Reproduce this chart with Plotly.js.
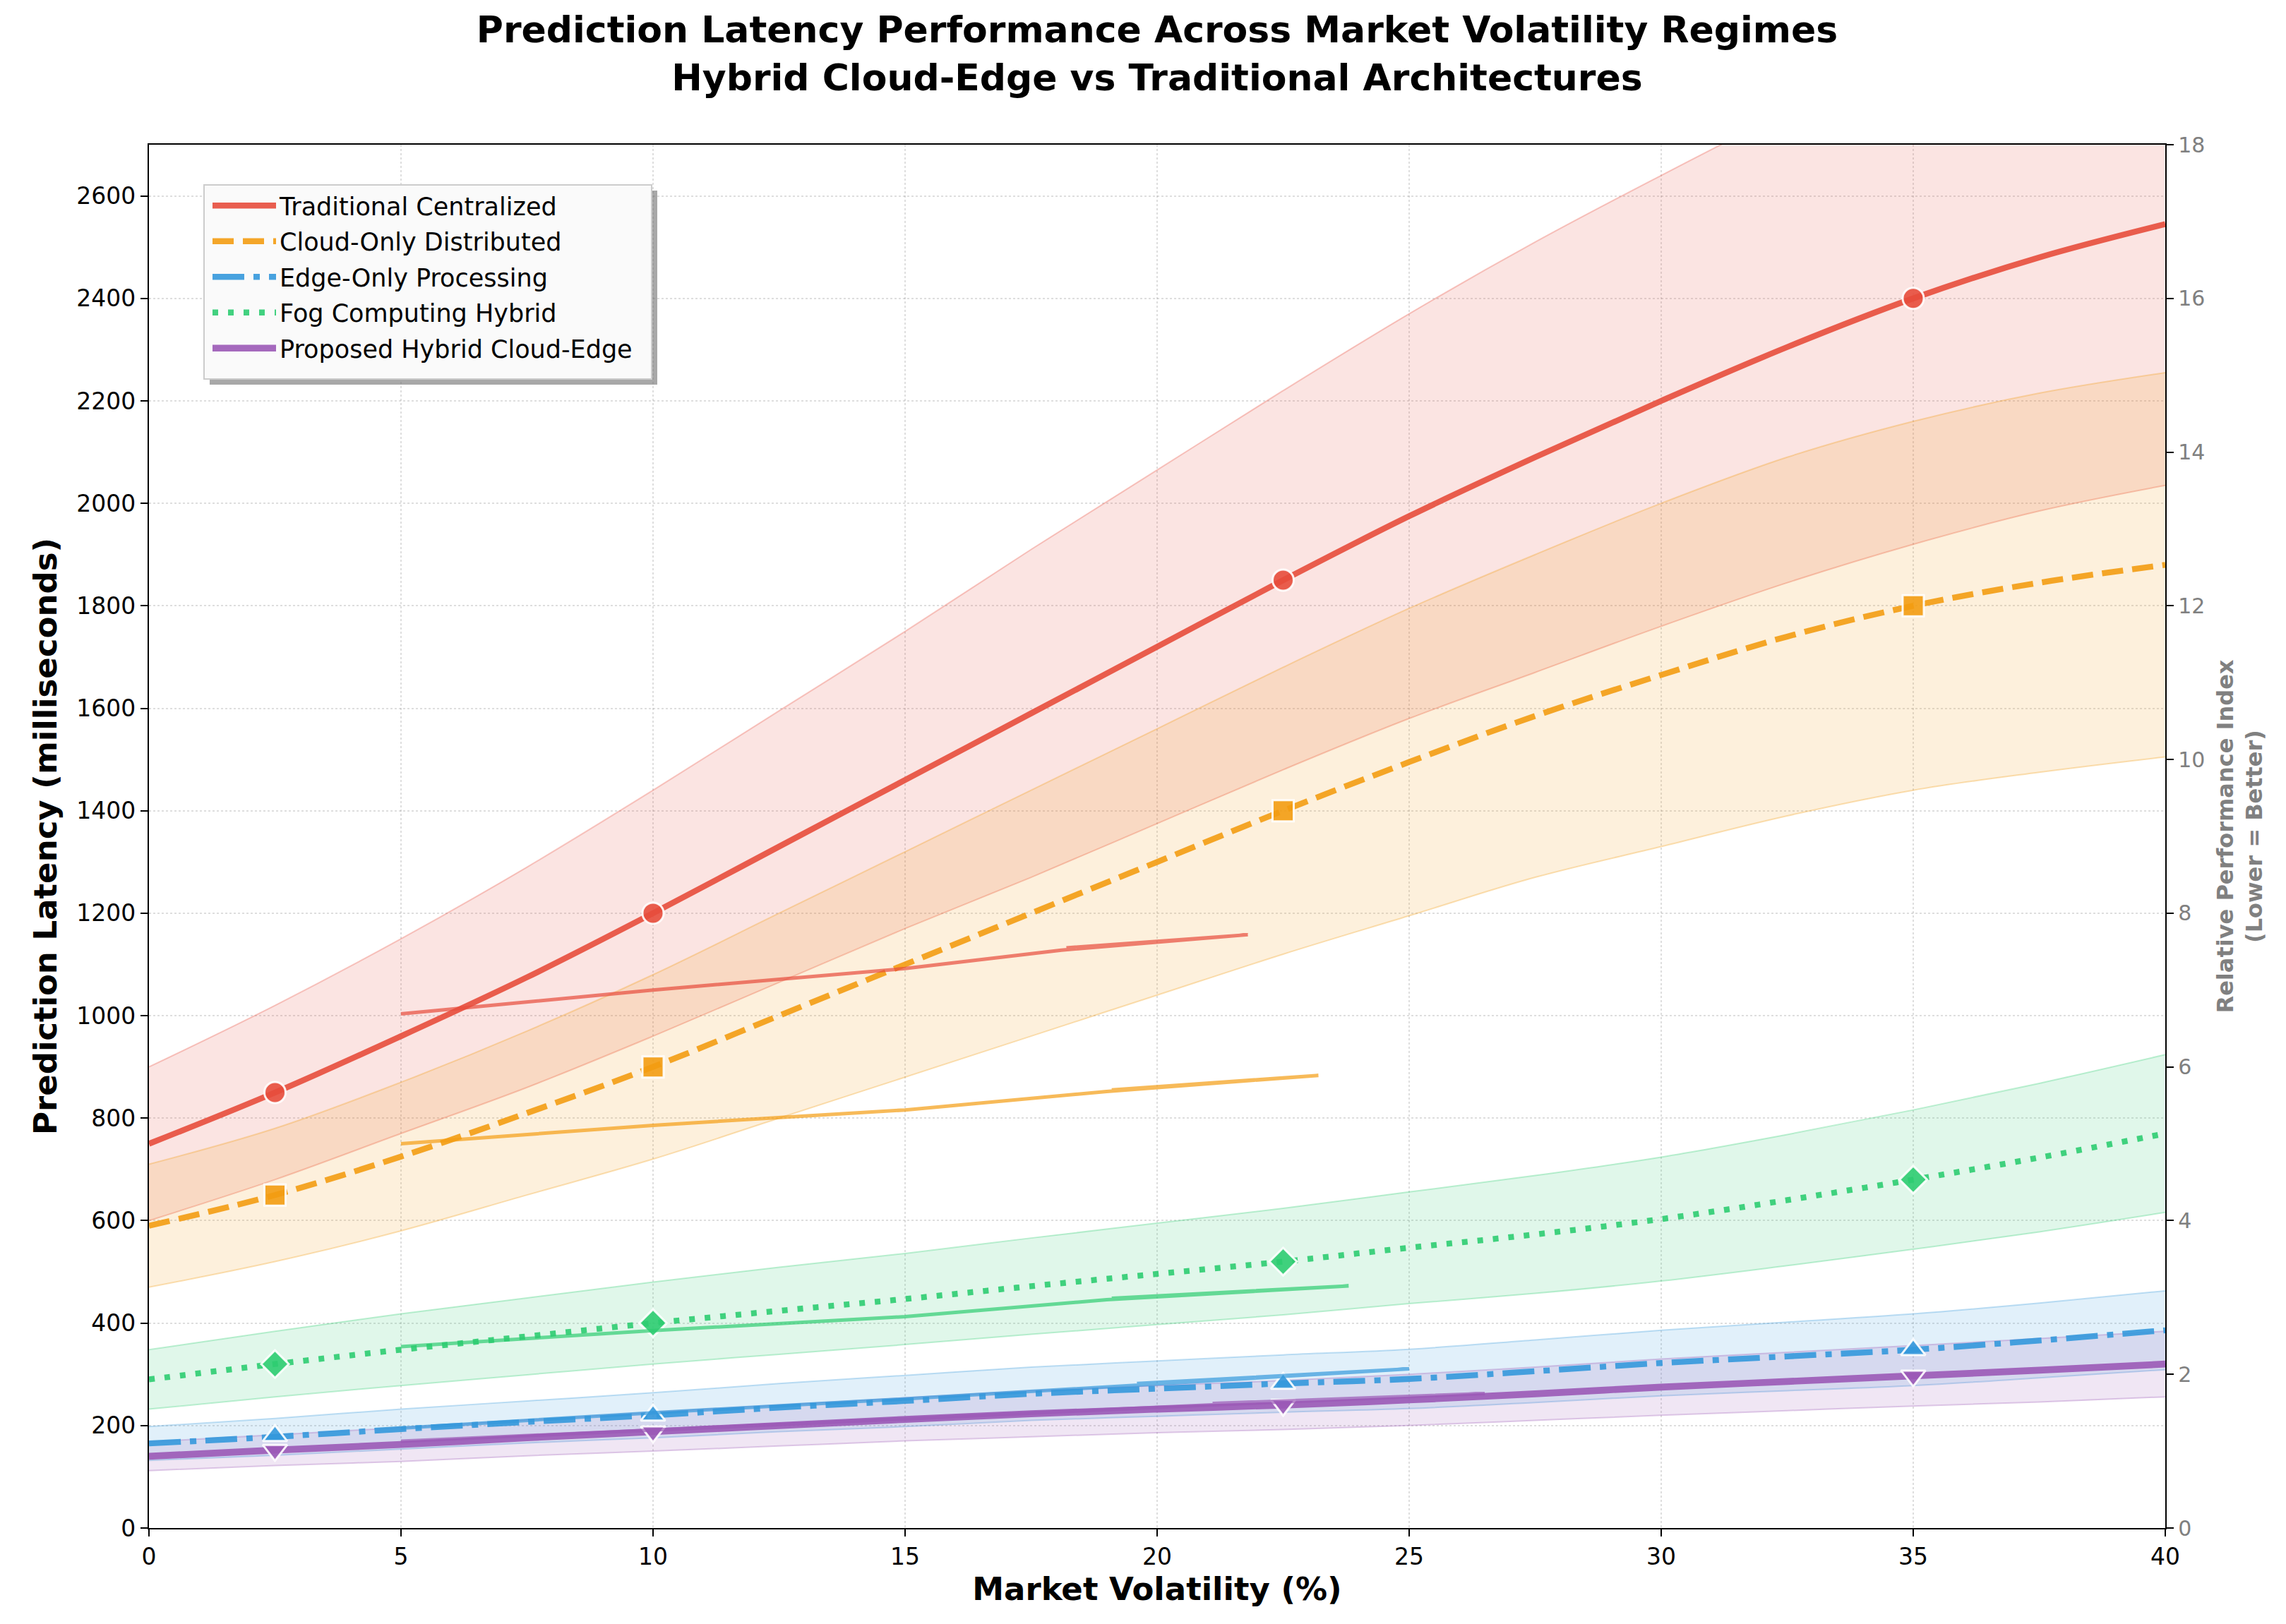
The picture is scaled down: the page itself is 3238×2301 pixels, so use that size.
<!DOCTYPE html>
<html>
<head>
<meta charset="utf-8">
<script src="https://cdn.plot.ly/plotly-3.0.1.min.js"></script>
<style>
html,body{margin:0;padding:0;background:#fff;}
#chart{width:3238px;height:2301px;}
</style>
</head>
<body>
<div id="chart"></div>
<script>
// ---- Data ----
const volatility = [0, 2.5, 5, 7.5, 10, 12.5, 15, 17.5, 20, 22.5, 25, 27.5, 30, 32.5, 35, 37.5, 40];

const traditional      = [750, 850, 960, 1075, 1200, 1330, 1460, 1590, 1720, 1850, 1975, 2090, 2200, 2305, 2400, 2480, 2545];
const traditionalLow   = [600, 680, 770, 860, 960, 1065, 1170, 1270, 1375, 1480, 1580, 1670, 1760, 1845, 1920, 1985, 2035];
const traditionalHigh  = [900, 1020, 1150, 1290, 1440, 1595, 1750, 1910, 2065, 2220, 2370, 2510, 2640, 2765, 2880, 2975, 3055];

const cloudOnly        = [590, 650, 725, 810, 900, 1000, 1100, 1200, 1300, 1400, 1495, 1585, 1665, 1740, 1800, 1845, 1880];
const cloudOnlyLow     = [470, 520, 580, 650, 720, 800, 880, 960, 1040, 1120, 1195, 1270, 1330, 1390, 1440, 1475, 1505];
const cloudOnlyHigh    = [710, 780, 870, 970, 1080, 1200, 1320, 1440, 1560, 1680, 1795, 1900, 2000, 2090, 2160, 2215, 2255];

const edgeOnly         = [165, 178, 193, 207, 220, 235, 248, 262, 272, 282, 291, 306, 322, 335, 348, 366, 386];
const edgeOnlyLow      = [132, 142, 154, 166, 176, 188, 198, 210, 218, 226, 233, 245, 258, 268, 278, 293, 309];
const edgeOnlyHigh     = [198, 214, 232, 248, 264, 282, 298, 314, 326, 338, 349, 367, 386, 402, 418, 439, 463];

const fogHybrid        = [290, 320, 348, 374, 400, 424, 447, 472, 496, 520, 547, 573, 603, 640, 680, 723, 770];
const fogHybridLow     = [232, 256, 278, 299, 320, 339, 358, 378, 397, 416, 438, 458, 482, 512, 544, 578, 616];
const fogHybridHigh    = [348, 384, 418, 449, 480, 509, 536, 566, 595, 624, 656, 688, 724, 768, 816, 868, 924];

const proposed         = [140, 152, 163, 176, 188, 200, 212, 223, 232, 240, 250, 262, 275, 286, 297, 308, 320];
const proposedLow      = [112, 122, 130, 141, 150, 160, 170, 178, 186, 192, 200, 210, 220, 229, 238, 246, 256];
const proposedHigh     = [168, 182, 196, 211, 226, 240, 254, 268, 278, 288, 300, 314, 330, 343, 356, 370, 384];

// regime markers
const regimeX            = [2.5, 10, 22.5, 35];
const traditionalPts     = [850, 1200, 1850, 2400];
const cloudOnlyPts       = [650, 900, 1400, 1800];
const edgeOnlyPts        = [180, 220, 282, 348];
const fogHybridPts       = [320, 400, 520, 680];
const proposedPts        = [152, 188, 240, 297];

// relative performance index (right axis)
const idxTradX = [5, 10, 15, 18.1, 21.8, 18.2];
const idxTradY = [6.69, 7.0, 7.28, 7.52, 7.72, 7.55];
const idxCloudX = [5, 10, 15, 19, 23.2, 19.1];
const idxCloudY = [5.0, 5.24, 5.44, 5.68, 5.89, 5.70];
const idxFogX = [5, 10, 15, 19, 23.8, 19.1];
const idxFogY = [2.36, 2.57, 2.75, 2.97, 3.15, 2.99];
const idxEdgeX = [5, 10, 15, 19.5, 25, 19.6];
const idxEdgeY = [1.30, 1.50, 1.68, 1.86, 2.07, 1.88];
const idxPropX = [5, 10, 15, 21, 26.5, 21.1];
const idxPropY = [1.13, 1.27, 1.42, 1.60, 1.75, 1.62];

const names = ['Traditional Centralized', 'Cloud-Only Distributed', 'Edge-Only Processing', 'Fog Computing Hybrid', 'Proposed Hybrid Cloud-Edge'];
const colors = ['#E74C3C', '#F39C12', '#3498DB', '#2ECC71', '#9B59B6'];

function rgba(hex, a) {
  const r = parseInt(hex.slice(1,3),16), g = parseInt(hex.slice(3,5),16), b = parseInt(hex.slice(5,7),16);
  return `rgba(${r},${g},${b},${a})`;
}

const series = [
  {y: traditional, lo: traditionalLow, hi: traditionalHigh, pts: traditionalPts, dash: 'solid', w: 8.3, sym: 'circle', ix: idxTradX, iy: idxTradY},
  {y: cloudOnly, lo: cloudOnlyLow, hi: cloudOnlyHigh, pts: cloudOnlyPts, dash: '30px,13px', w: 8.3, sym: 'square', ix: idxCloudX, iy: idxCloudY},
  {y: edgeOnly, lo: edgeOnlyLow, hi: edgeOnlyHigh, pts: edgeOnlyPts, dash: '45px,13px,9px,13px', w: 8.3, sym: 'triangle-up', ix: idxEdgeX, iy: idxEdgeY},
  {y: fogHybrid, lo: fogHybridLow, hi: fogHybridHigh, pts: fogHybridPts, dash: '8px,14px', w: 8.3, sym: 'diamond', ix: idxFogX, iy: idxFogY},
  {y: proposed, lo: proposedLow, hi: proposedHigh, pts: proposedPts, dash: 'solid', w: 9.7, sym: 'triangle-down', ix: idxPropX, iy: idxPropY}
];

const traces = [];
// bands
series.forEach((s, i) => {
  traces.push({x: volatility, y: s.lo, type: 'scatter', mode: 'lines', line: {color: rgba(colors[i], 0.3), width: 2, shape: 'spline'}, showlegend: false, hoverinfo: 'skip'});
  traces.push({x: volatility, y: s.hi, type: 'scatter', mode: 'lines', fill: 'tonexty', fillcolor: rgba(colors[i], 0.15), line: {color: rgba(colors[i], 0.3), width: 2, shape: 'spline'}, showlegend: false, hoverinfo: 'skip'});
});
// main lines
series.forEach((s, i) => {
  traces.push({x: volatility, y: s.y, type: 'scatter', mode: 'lines', name: names[i], legendgroup: 'g' + i,
    line: {color: rgba(colors[i], 0.9), width: s.w, dash: s.dash, shape: 'spline'}});
});
// markers
series.forEach((s, i) => {
  traces.push({x: regimeX, y: s.pts, type: 'scatter', mode: 'markers', showlegend: false,
    marker: {symbol: s.sym, size: 30, color: rgba(colors[i], 0.9), line: {color: 'rgba(255,255,255,0.9)', width: 3}}});
});
// secondary index lines
series.forEach((s, i) => {
  traces.push({x: s.ix, y: s.iy, type: 'scatter', mode: 'lines', yaxis: 'y2', showlegend: false,
    line: {color: rgba(colors[i], 0.7), width: 5}});
});

const font = 'DejaVu Sans, sans-serif';
const PL = 211, PT = 205, PW = 2856, PH = 1960;
const px = v => (v - PL) / PW;
const py = v => 1 - (v - PT) / PH;

const layout = {
  width: 3238, height: 2301,
  paper_bgcolor: '#ffffff', plot_bgcolor: '#ffffff',
  margin: {l: 211, r: 171, t: 205, b: 136, pad: 0},
  font: {family: font, size: 33, color: '#000'},
  title: {
    text: 'Prediction Latency Performance Across Market Volatility Regimes<br>Hybrid Cloud-Edge vs Traditional Architectures',
    font: {family: font, size: 52, weight: 'bold', color: '#000'},
    x: 0.5, xref: 'paper', y: 1 - 60 / 2301, yref: 'container', yanchor: 'top'
  },
  xaxis: {
    range: [0, 40], dtick: 5, tick0: 0,
    showline: true, linecolor: '#000', linewidth: 2.2, mirror: true,
    ticks: 'outside', ticklen: 10, tickwidth: 2, tickcolor: '#000',
    showgrid: true, gridcolor: 'rgba(0,0,0,0.13)', griddash: 'dot', gridwidth: 2,
    zeroline: false,
    tickfont: {family: font, size: 33, color: '#000'},
    title: {text: 'Market Volatility (%)', font: {family: font, size: 45, weight: 'bold', color: '#000'}, standoff: 8}
  },
  yaxis: {
    range: [0, 2700], dtick: 200, tick0: 0,
    showline: true, linecolor: '#000', linewidth: 2.2,
    ticks: 'outside', ticklen: 10, tickwidth: 2, tickcolor: '#000',
    showgrid: true, gridcolor: 'rgba(0,0,0,0.13)', griddash: 'dot', gridwidth: 2,
    zeroline: false,
    tickfont: {family: font, size: 33, color: '#000'},
    title: {text: 'Prediction Latency (milliseconds)', font: {family: font, size: 45, weight: 'bold', color: '#000'}, standoff: 14}
  },
  yaxis2: {
    overlaying: 'y', side: 'right', range: [0, 18], dtick: 2, tick0: 0,
    showline: true, linecolor: '#000', linewidth: 2.2,
    ticks: 'outside', ticklen: 10, tickwidth: 2, tickcolor: '#000',
    showgrid: false, zeroline: false,
    tickfont: {family: font, size: 30, color: '#808080'},
    title: {text: 'Relative Performance Index<br>(Lower = Better)', font: {family: font, size: 32, weight: 'bold', color: '#808080'}, standoff: 18}
  },
  legend: {
    x: px(296), y: py(262), xanchor: 'left', yanchor: 'top',
    bgcolor: 'rgba(0,0,0,0)', borderwidth: 0,
    font: {family: font, size: 35, color: '#000'},
    itemwidth: 90, traceorder: 'grouped', tracegroupgap: 2
  },
  shapes: [
    {type: 'rect', xref: 'paper', yref: 'paper', layer: 'above',
     x0: px(297), x1: px(931), y0: py(545), y1: py(270),
     fillcolor: 'rgba(110,110,110,0.6)', line: {width: 0}},
    {type: 'rect', xref: 'paper', yref: 'paper', layer: 'above',
     x0: px(289), x1: px(923), y0: py(537), y1: py(262),
     fillcolor: 'rgb(250,250,250)', line: {color: '#cccccc', width: 2}}
  ],
  showlegend: true
};

Plotly.newPlot('chart', traces, layout, {staticPlot: true});
</script>
</body>
</html>
